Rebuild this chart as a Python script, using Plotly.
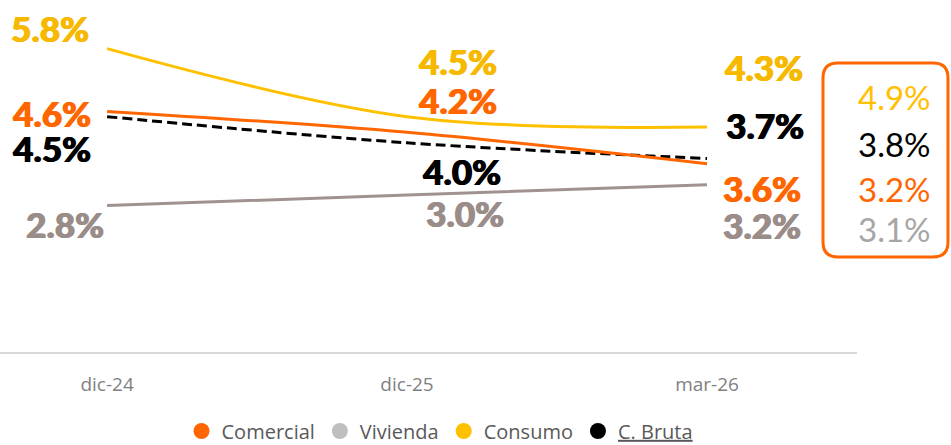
import plotly.graph_objects as go

# Periods and series (percentages)
periodos = ["dic-24", "dic-25", "mar-26"]
comercial = [4.6, 4.2, 3.6]
vivienda = [2.8, 3.0, 3.2]
consumo = [5.8, 4.5, 4.3]
c_bruta = [4.5, 4.0, 3.7]

# Reference values shown in the side box (Consumo, C. Bruta, Comercial, Vivienda)
sistema_nombres = ["Consumo", "C. Bruta", "Comercial", "Vivienda"]
sistema_valores = [4.9, 3.8, 3.2, 3.1]

NARANJA = "#FF6600"
AMARILLO = "#FFC000"
NEGRO = "#000000"
GRIS_LINEA = "#A0938F"
GRIS_ETIQ = "#9A8D89"
GRIS_LEYENDA = "#BFBFBF"
GRIS_CAJA = "#A6A6A6"

W, H = 951, 445
ML, MR, MT, MB = 0, 94, 0, 93
PW, PH = W - ML - MR, H - MT - MB

series = [
    # name, values, line colour, label colour, dash, label offsets (dx, dy) per period
    ("Consumo", consumo, AMARILLO, "#F7B900", "solid", [(-57, 21), (51, 56), (57, 60)]),
    ("Comercial", comercial, NARANJA, NARANJA, "solid", [(-55, -2), (51, 32), (55, -24)]),
    ("C. Bruta", c_bruta, NEGRO, NEGRO, "10px,5px", [(-55, -31), (55, -28), (58, 33)]),
    ("Vivienda", vivienda, GRIS_LINEA, GRIS_ETIQ, "solid", [(-42, -18), (58, -18), (55, -40)]),
]

fig = go.Figure()

# Lines (drawn Vivienda first so the coloured lines sit on top)
for name, vals, color, _, dash, _ in reversed(series):
    fig.add_trace(go.Scatter(
        x=periodos, y=vals, mode="lines", name=name, showlegend=False,
        line=dict(color=color, width=3, dash=dash, shape="spline", smoothing=1.0),
        hoverinfo="skip",
    ))

# Legend entries shown as round markers
legend_items = [
    ("Comercial", NARANJA),
    ("Vivienda", GRIS_LEYENDA),
    ("Consumo", AMARILLO),
    ("<u>C. Bruta</u>", NEGRO),
]
for label, color in legend_items:
    fig.add_trace(go.Scatter(
        x=[None], y=[None], mode="markers", name=label,
        marker=dict(color=color, size=16, symbol="circle"),
    ))

LABEL_FAMILY = "Lato, 'Open Sans', sans-serif"

# Value labels next to each point (a same-colour shadow makes the figures heavier)
for name, vals, _, lcolor, _, offsets in series:
    for per, v, (dx, dy) in zip(periodos, vals, offsets):
        fig.add_annotation(
            x=per, y=v, xref="x", yref="y", text=f"{v:.1f}%",
            showarrow=False, xshift=dx, yshift=dy,
            xanchor="center", yanchor="middle",
            font=dict(family=LABEL_FAMILY, size=35, weight=900, color=lcolor,
                      shadow=f"0.8px 0 0 {lcolor}, -0.4px 0 0 {lcolor}"),
        )

# Side box with the reference values
def px_to_paper(px, py):
    return (px - ML) / PW, (MT + PH - py) / PH

def P(px, py):
    x, y = px_to_paper(px, py)
    return f"{x:.5f},{y:.5f}"

bx0, bx1, by0, by1, r = 823, 948, 63, 257, 15
path = (
    f"M {P(bx0 + r, by0)} L {P(bx1 - r, by0)} Q {P(bx1, by0)} {P(bx1, by0 + r)} "
    f"L {P(bx1, by1 - r)} Q {P(bx1, by1)} {P(bx1 - r, by1)} "
    f"L {P(bx0 + r, by1)} Q {P(bx0, by1)} {P(bx0, by1 - r)} "
    f"L {P(bx0, by0 + r)} Q {P(bx0, by0)} {P(bx0 + r, by0)} Z"
)
fig.add_shape(type="path", path=path, xref="paper", yref="paper",
              line=dict(color=NARANJA, width=3), fillcolor="rgba(0,0,0,0)")

box_colors = {"Consumo": AMARILLO, "C. Bruta": NEGRO, "Comercial": NARANJA, "Vivienda": GRIS_CAJA}
box_rows_y = [97, 144, 189, 229]
for nombre, val, py in zip(sistema_nombres, sistema_valores, box_rows_y):
    x, y = px_to_paper(894, py)
    fig.add_annotation(
        x=x, y=y, xref="paper", yref="paper", text=f"{val:.1f}%",
        showarrow=False, xanchor="center", yanchor="middle",
        font=dict(family=LABEL_FAMILY, size=33, color=box_colors[nombre]),
    )

fig.update_layout(
    width=W, height=H,
    margin=dict(l=ML, r=MR, t=MT, b=MB, autoexpand=False),
    paper_bgcolor="white", plot_bgcolor="white",
    showlegend=True,
    legend=dict(
        orientation="h", x=440 / PW, xanchor="center",
        yref="container", y=(H - 431) / H, yanchor="middle",
        font=dict(family="'Open Sans', sans-serif", size=20, color="#595959"),
        itemsizing="trace", itemclick=False, itemdoubleclick=False,
        bgcolor="rgba(0,0,0,0)", tracegroupgap=0,
    ),
    xaxis=dict(
        type="category", categoryorder="array", categoryarray=periodos,
        range=[-0.357, 2.5], showgrid=False, zeroline=False,
        showline=True, linecolor="#D9D9D9", linewidth=2,
        ticks="", ticklabelstandoff=14, automargin=False,
        tickfont=dict(family="'Open Sans', sans-serif", size=19, color="#7F7F7F"),
        fixedrange=True,
    ),
    yaxis=dict(range=[0, PH / 52.3], visible=False, fixedrange=True, automargin=False),
)

fig.write_html("out.html")
